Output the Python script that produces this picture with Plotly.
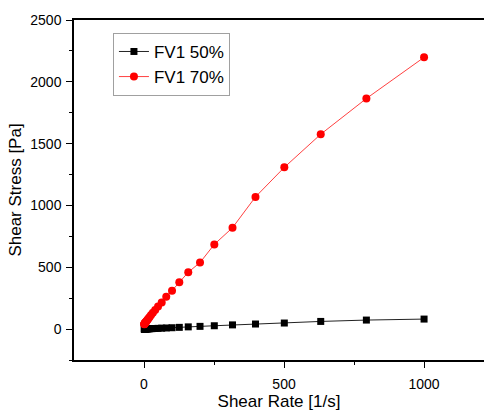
import plotly.graph_objects as go

# Shear rate sweep [1/s], 10 points per decade from 1 to 1000
shear_rate = [1.0, 1.26, 1.58, 2.0, 2.51, 3.16, 3.98, 5.01, 6.31, 7.94,
              10.0, 12.6, 15.8, 20.0, 25.1, 31.6, 39.8, 50.1, 63.1, 79.4,
              100, 126, 158, 200, 251, 316, 398, 501, 631, 794, 1000]

# Shear stress [Pa]
stress_fv1_50 = [0.4, 0.45, 0.5, 0.6, 0.7, 0.8, 0.9, 1.1, 1.3, 1.5,
                 1.8, 2.1, 2.5, 3.0, 3.5, 4.2, 5.0, 6.0, 7.5, 9.0,
                 11, 14, 18, 22, 27, 34, 41, 49, 62, 73, 81]
stress_fv1_70 = [40, 41, 42, 43, 45, 47, 50, 53, 57, 62,
                 68, 76, 86, 98, 113, 133, 155, 182, 215, 262,
                 311, 379, 460, 538, 685, 820, 1069, 1308, 1576, 1865, 2198]

FONT = "Liberation Sans, Arial, sans-serif"

fig = go.Figure()
fig.add_trace(go.Scatter(
    x=shear_rate, y=stress_fv1_50, name="FV1 50%", mode="lines+markers",
    line=dict(color="#222222", width=1),
    marker=dict(symbol="square", size=7, color="black"),
))
fig.add_trace(go.Scatter(
    x=shear_rate, y=stress_fv1_70, name="FV1 70%", mode="lines+markers",
    line=dict(color="#ff4040", width=1),
    marker=dict(symbol="circle", size=8, color="red"),
))

axis_common = dict(
    showline=True, linecolor="black", linewidth=1.5,
    showgrid=False, zeroline=False,
    ticks="outside", ticklen=6, tickwidth=1.2, tickcolor="black",
    tickfont=dict(family=FONT, size=14, color="black"),
    minor=dict(ticks="outside", ticklen=3, tickwidth=1.2, tickcolor="black"),
)

fig.update_xaxes(
    **axis_common,
    range=[-250, 1214], tickvals=[0, 500, 1000],
    mirror=True, ticklabelstandoff=4,
    title=dict(text="Shear Rate [1/s]", font=dict(family=FONT, size=17, color="black"), standoff=8),
)
fig.update_xaxes(minor=dict(tickvals=[250, 750]))
fig.update_yaxes(
    **axis_common,
    range=[-250, 2500], tickvals=[0, 500, 1000, 1500, 2000, 2500],
    mirror=False, ticklabelstandoff=2,
    title=dict(text="Shear Stress [Pa]", font=dict(family=FONT, size=17, color="black"), standoff=4),
)
fig.update_yaxes(minor=dict(tickvals=[-250, 250, 750, 1250, 1750, 2250]))

fig.update_layout(
    width=484, height=411,
    margin=dict(l=74, r=0, t=20, b=51),
    paper_bgcolor="white", plot_bgcolor="white",
    font=dict(family=FONT, color="black"),
    legend=dict(
        x=0.095, y=0.962, xanchor="left", yanchor="top",
        bgcolor="white", bordercolor="#a0a0a0", borderwidth=1,
        font=dict(family=FONT, size=17, color="black"),
        tracegroupgap=0, itemwidth=30,
    ),
)

fig.write_html("out.html")
